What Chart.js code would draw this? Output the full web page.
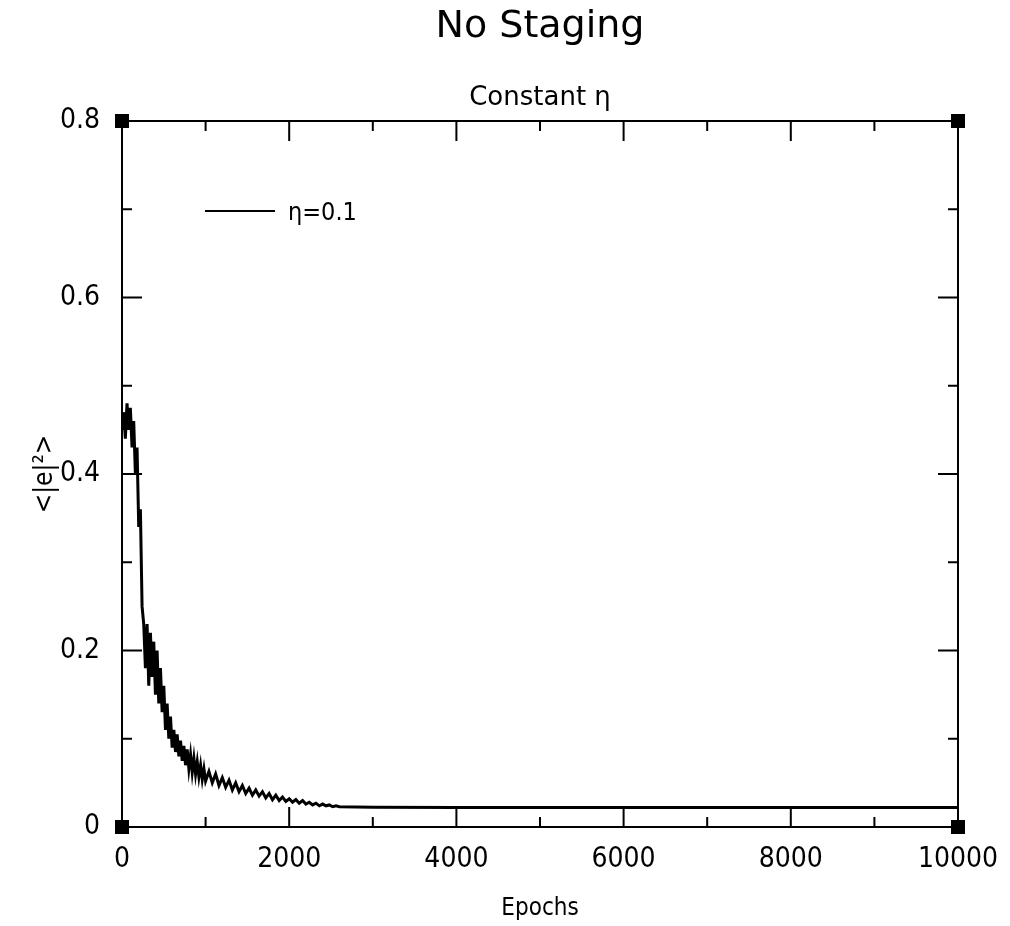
<!DOCTYPE html>
<html>
<head>
<meta charset="utf-8">
<title>No Staging</title>
<script src="https://cdn.jsdelivr.net/npm/chart.js@4/dist/chart.umd.min.js"></script>
<style>
  html, body { margin: 0; padding: 0; background: #fff; }
  canvas { display: block; }
</style>
</head>
<body>
<canvas id="errorChart" width="1010" height="926"></canvas>
<script>
// training epochs and mean squared error
const epochs = [
    0, 20, 40, 60, 80, 100, 120, 140, 160, 180,
    200, 220, 240, 260, 280, 300, 320, 340, 360, 380,
    400, 420, 440, 460, 480, 500, 520, 540, 560, 580,
    600, 620, 640, 660, 680, 700, 720, 740, 760, 780,
    800, 820, 840, 860, 880, 900, 920, 940, 960, 980,
    1000, 1040, 1080, 1120, 1160, 1200, 1240, 1280, 1320, 1360,
    1400, 1440, 1480, 1520, 1560, 1600, 1640, 1680, 1720, 1760,
    1800, 1840, 1880, 1920, 1960, 2000, 2040, 2080, 2120, 2160,
    2200, 2240, 2280, 2320, 2360, 2400, 2440, 2480, 2520, 2560,
    2600, 3000, 4000, 6000, 8000, 10000
];
const errors = [
    0.45, 0.47, 0.44, 0.48, 0.45, 0.475, 0.43, 0.46, 0.40, 0.43,
    0.34, 0.36, 0.25, 0.23, 0.18, 0.23, 0.16, 0.22, 0.17, 0.21,
    0.15, 0.20, 0.14, 0.18, 0.13, 0.16, 0.11, 0.14, 0.10, 0.125,
    0.09, 0.11, 0.085, 0.105, 0.08, 0.098, 0.075, 0.092, 0.07, 0.088,
    0.066, 0.082, 0.062, 0.078, 0.06, 0.074, 0.057, 0.07, 0.054, 0.066,
    0.052, 0.063, 0.05, 0.06, 0.047, 0.056, 0.045, 0.053, 0.042, 0.05,
    0.04, 0.047, 0.038, 0.044, 0.036, 0.042, 0.035, 0.04, 0.033, 0.038,
    0.031, 0.036, 0.030, 0.034, 0.029, 0.032, 0.028, 0.031, 0.027, 0.030,
    0.026, 0.028, 0.025, 0.027, 0.024, 0.026, 0.024, 0.025, 0.023, 0.024,
    0.023, 0.0225, 0.022, 0.022, 0.022, 0.022
];
const xTickLabels = ['0', '2000', '4000', '6000', '8000', '10000'];
const yTickLabels = ['0', '0.2', '0.4', '0.6', '0.8'];
const titleText = 'No Staging';
const subtitleText = 'Constant η';

const fontFamily = "'DejaVu Sans Condensed', 'Liberation Sans Narrow', 'DejaVu Sans', sans-serif";
const wideFamily = "'DejaVu Sans', 'Liberation Sans', sans-serif";

// titles centred over the plot box
const titlePlugin = {
    id: 'plotTitles',
    afterDraw(chart) {
        const ctx = chart.ctx;
        const area = chart.chartArea;
        const cx = (area.left + area.right) / 2;
        ctx.save();
        ctx.fillStyle = '#000';
        ctx.textAlign = 'center';
        ctx.textBaseline = 'alphabetic';
        ctx.font = '38px ' + wideFamily;
        ctx.fillText(titleText, cx, area.top - 84);
        ctx.font = '26px ' + wideFamily;
        ctx.fillText(subtitleText, cx, area.top - 16);
        ctx.restore();
    }
};

// box round the plot, inward ticks on all four sides, squares at the corners
const framePlugin = {
    id: 'frame',
    afterDraw(chart) {
        const ctx = chart.ctx;
        const area = chart.chartArea;
        const xs = chart.scales.x;
        const ys = chart.scales.y;
        ctx.save();
        ctx.strokeStyle = '#000';
        ctx.lineWidth = 2;
        ctx.strokeRect(area.left, area.top, area.right - area.left, area.bottom - area.top);

        ctx.beginPath();
        const xt = xs.ticks.map(t => t.value);
        xt.forEach((v, i) => {
            const px = xs.getPixelForValue(v);
            ctx.moveTo(px, area.bottom); ctx.lineTo(px, area.bottom - 20);
            ctx.moveTo(px, area.top); ctx.lineTo(px, area.top + 20);
            if (i < xt.length - 1) {
                const mx = xs.getPixelForValue((v + xt[i + 1]) / 2);
                ctx.moveTo(mx, area.bottom); ctx.lineTo(mx, area.bottom - 10);
                ctx.moveTo(mx, area.top); ctx.lineTo(mx, area.top + 10);
            }
        });
        const yt = ys.ticks.map(t => t.value);
        yt.forEach((v, i) => {
            const py = ys.getPixelForValue(v);
            ctx.moveTo(area.left, py); ctx.lineTo(area.left + 20, py);
            ctx.moveTo(area.right, py); ctx.lineTo(area.right - 20, py);
            if (i < yt.length - 1) {
                const my = ys.getPixelForValue((v + yt[i + 1]) / 2);
                ctx.moveTo(area.left, my); ctx.lineTo(area.left + 10, my);
                ctx.moveTo(area.right, my); ctx.lineTo(area.right - 10, my);
            }
        });
        ctx.stroke();

        ctx.fillStyle = '#000';
        [[area.left, area.top], [area.right, area.top], [area.left, area.bottom], [area.right, area.bottom]].forEach(p => {
            ctx.fillRect(p[0] - 7, p[1] - 7, 14, 14);
        });

        // legend entry inside the plot, upper left
        const ds = chart.data.datasets[0];
        const ly = area.top + 90;
        ctx.beginPath();
        ctx.lineWidth = 2;
        ctx.moveTo(area.left + 83, ly);
        ctx.lineTo(area.left + 153, ly);
        ctx.stroke();
        ctx.font = '25px ' + fontFamily;
        ctx.textAlign = 'left';
        ctx.textBaseline = 'middle';
        ctx.fillText(ds.label, area.left + 166, ly + 2);
        ctx.restore();
    }
};

const errorCtx = document.getElementById('errorChart').getContext('2d');

const errorChart = new Chart(errorCtx, {
    type: 'line',
    data: {
        datasets: [{
            label: 'η=0.1',
            data: epochs.map((e, i) => ({ x: e, y: errors[i] })),
            borderColor: '#000',
            backgroundColor: '#000',
            borderWidth: 3,
            pointRadius: 0,
            tension: 0,
            fill: false
        }]
    },
    options: {
        responsive: false,
        animation: false,
        layout: {
            padding: { left: 0, right: 52, top: 121, bottom: 0 }
        },
        plugins: {
            title: { display: false },
            subtitle: { display: false },
            legend: { display: false },
            tooltip: { enabled: false }
        },
        scales: {
            x: {
                type: 'linear',
                min: 0,
                max: 10000,
                grid: { display: false, drawTicks: false },
                border: { display: true, color: '#000', width: 2 },
                ticks: {
                    stepSize: 2000,
                    color: '#000',
                    padding: 16,
                    maxRotation: 0,
                    font: { family: fontFamily, size: 28 },
                    callback: (v, i) => xTickLabels[i]
                },
                title: {
                    display: true,
                    text: 'Epochs',
                    color: '#000',
                    font: { family: fontFamily, size: 24 },
                    padding: { top: 0, bottom: 3 }
                },
                afterFit: scale => {
                    scale.height = 99;
                    scale.paddingLeft = 0;
                    scale.paddingRight = 0;
                }
            },
            y: {
                min: 0,
                max: 0.8,
                grid: { display: false, drawTicks: false },
                border: { display: true, color: '#000', width: 2 },
                ticks: {
                    stepSize: 0.2,
                    color: '#000',
                    padding: 22,
                    font: { family: fontFamily, size: 28 },
                    callback: (v, i) => yTickLabels[i]
                },
                title: {
                    display: true,
                    text: '<|e|²>',
                    color: '#000',
                    font: { family: fontFamily, size: 26 },
                    padding: { top: 30, bottom: 0 }
                },
                afterFit: scale => { scale.width = 122; }
            }
        }
    },
    plugins: [framePlugin, titlePlugin]
});
</script>
</body>
</html>
